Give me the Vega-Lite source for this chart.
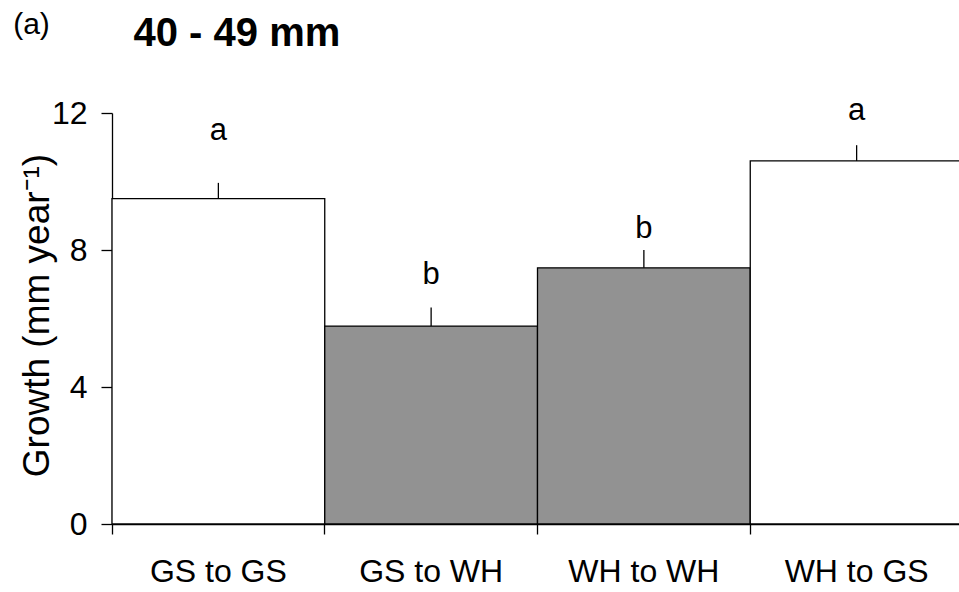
{
  "$schema": "https://vega.github.io/schema/vega-lite/v6.json",
  "width": 847,
  "height": 411,
  "autosize": {"type": "none"},
  "padding": {"left": 112, "top": 113, "right": 0, "bottom": 68},
  "background": "white",
  "config": {
    "view": {"stroke": null},
    "font": "Liberation Sans",
    "axis": {"domainColor": "black", "tickColor": "black", "labelColor": "black", "titleColor": "black", "grid": false, "domainWidth": 1.3, "tickWidth": 1.3, "labelFont": "Liberation Sans", "titleFont": "Liberation Sans"}
  },
  "data": {
    "values": [
      {"cond": "GS to GS", "dest": "GS", "mean": 9.50, "upper": 9.96, "letter": "a", "letter_y": 11.20},
      {"cond": "GS to WH", "dest": "WH", "mean": 5.78, "upper": 6.32, "letter": "b", "letter_y": 7.02},
      {"cond": "WH to WH", "dest": "WH", "mean": 7.48, "upper": 8.00, "letter": "b", "letter_y": 8.35},
      {"cond": "WH to GS", "dest": "GS", "mean": 10.60, "upper": 11.06, "letter": "a", "letter_y": 11.79}
    ]
  },
  "layer": [
    {
      "mark": {"type": "bar", "stroke": "black", "strokeWidth": 1.3},
      "encoding": {
        "x": {"field": "cond", "type": "nominal", "sort": null,
          "scale": {"paddingInner": 0, "paddingOuter": 0, "range": [0, 851]},
          "axis": {"orient": "bottom", "bandPosition": 0, "tickSize": 10, "labelPadding": 22, "labelFontSize": 32, "labelAngle": 0,
            "title": "(a)", "titleFontSize": 30, "titleFontWeight": "normal", "titleX": -81, "titleY": -491, "titleAlign": "center", "titleBaseline": "alphabetic", "titleAngle": 0}},
        "y": {"field": "mean", "type": "quantitative",
          "scale": {"domain": [0, 12], "nice": false},
          "axis": {"orient": "left", "values": [0, 4, 8, 12], "tickSize": 11, "labelPadding": 14, "labelFontSize": 32,
            "title": "Growth (mm year⁻¹)", "titleFontSize": 37, "titleFontWeight": "normal", "titleX": -64, "titleY": 202, "titleAngle": -90, "titleAlign": "center", "titleBaseline": "alphabetic"}},
        "fill": {"field": "dest", "type": "nominal", "scale": {"domain": ["GS", "WH"], "range": ["white", "#929292"]}, "legend": null}
      }
    },
    {
      "mark": {"type": "rule", "color": "black", "strokeWidth": 1.3},
      "encoding": {
        "x": {"field": "cond", "type": "nominal", "sort": null, "axis": null},
        "y": {"field": "mean", "type": "quantitative"},
        "y2": {"field": "upper"}
      }
    },
    {
      "mark": {"type": "text", "fontSize": 31, "baseline": "alphabetic", "color": "black", "font": "Liberation Sans"},
      "encoding": {
        "x": {"field": "cond", "type": "nominal", "sort": null,
          "axis": {"orient": "top", "labels": false, "ticks": false, "domain": false,
            "title": "40 - 49 mm", "titleFontSize": 40, "titleFontWeight": "bold", "titleX": 21, "titleY": -68, "titleAlign": "left", "titleBaseline": "alphabetic", "titleAngle": 0}},
        "y": {"field": "letter_y", "type": "quantitative"},
        "text": {"field": "letter"}
      }
    }
  ]
}
